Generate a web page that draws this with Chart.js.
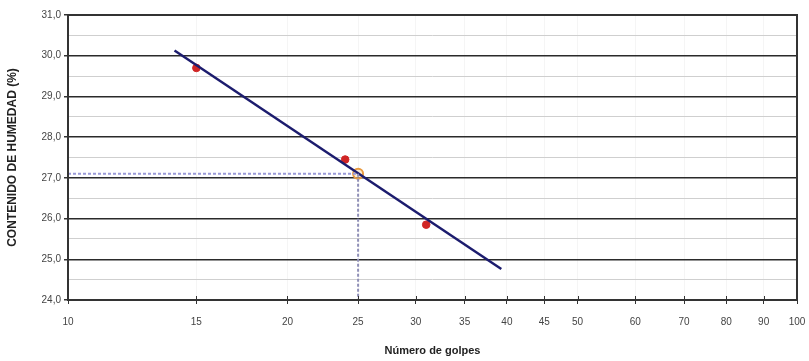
<!DOCTYPE html>
<html>
<head>
<meta charset="utf-8">
<script src="https://cdn.jsdelivr.net/npm/chart.js@4"></script>
<style>
	html, body { margin: 0; padding: 0; background: #fff; }
	#wrap { width: 809px; height: 361px; position: relative; }
</style>
</head>
<body>
<div id="wrap"><canvas id="limite_chart"></canvas></div>
<script>
// Límite líquido
const golpes = [15, 24, 31],           // número de golpes per test
	  humedad = [29.7, 27.45, 25.85];    // contenido de humedad (%)
const trendX = [14, 39.3],             // ends of the fitted line
	  trendY = [30.13, 24.76];
const llGolpes = 25,                   // 25 blows reference point
	  llHumedad = 27.1;
const xTicks = [10, 15, 20, 25, 30, 35, 40, 45, 50, 60, 70, 80, 90, 100];

const font = "'Liberation Sans Narrow', 'Liberation Sans', Arial, sans-serif";

// draws the dark frame around the plot + the little inner tick marks
const frame = {
	id: 'frame',
	afterDraw(chart) {
		const a = chart.chartArea, c = chart.ctx;
		c.save();
		c.strokeStyle = '#333';
		c.lineWidth = 2;
		c.strokeRect(a.left, a.top, a.right - a.left, a.bottom - a.top);
		c.lineWidth = 1;
		c.beginPath();
		xTicks.forEach((v) => {
			let px = Math.round(chart.scales.x.getPixelForValue(v)) + 0.5;
			c.moveTo(px, a.bottom);
			c.lineTo(px, a.bottom - 4);
		});
		c.stroke();
		c.restore();
	}
};

const ctx = document.getElementById('limite_chart');
new Chart(ctx, {
	type: 'scatter',
	data: {
		datasets: [
			{ // horizontal guide to the y axis
				type: 'line',
				data: [{x: 10, y: llHumedad}, {x: llGolpes, y: llHumedad}],
				borderColor: '#9a9ad8',
				borderWidth: 2,
				borderDash: [3, 2],
				pointRadius: 0
			},{ // vertical guide down to the x axis
				type: 'line',
				data: [{x: llGolpes, y: llHumedad}, {x: llGolpes, y: 24}],
				borderColor: '#9090b8',
				borderWidth: 2,
				borderDash: [3, 2],
				pointRadius: 0
			},{ // fitted line
				type: 'line',
				data: trendX.map((x, i) => ({x: x, y: trendY[i]})),
				borderColor: '#1c1c6e',
				borderWidth: 2.5,
				pointRadius: 0
			},{ // test results
				data: golpes.map((g, i) => ({x: g, y: humedad[i]})),
				backgroundColor: '#d02525',
				borderColor: '#d02525',
				pointRadius: 3.8
			},{ // 25 blows point
				data: [{x: llGolpes, y: llHumedad}],
				backgroundColor: 'rgba(250,220,170,0.5)',
				borderColor: '#e89a40',
				borderWidth: 2,
				pointRadius: 5
			}
		]
	},
	options: {
		responsive: true,
		maintainAspectRatio: false,
		animation: false,
		layout: { padding: { top: 15, right: 12, left: 0, bottom: 0 } },
		plugins: { legend: { display: false }, tooltip: { enabled: false } },
		scales: {
			x: {
				type: 'logarithmic',
				min: 10,
				max: 100,
				afterBuildTicks: (scale) => {
					scale.ticks = xTicks.map((v) => ({ value: v }));
				},
				afterFit: (scale) => {
					scale.height = 61;
					scale.paddingLeft = 0;  // don't let the tick padding eat the plot width
					scale.paddingRight = 0;
				},
				ticks: {
					autoSkip: false,
					maxRotation: 0,
					color: '#444',
					font: { family: font, size: 10 },
					padding: 12,
					callback: (value) => `${value}`
				},
				grid: {
					color: '#f5f5f5',
					tickColor: '#333',
					tickLength: 4,
					lineWidth: 1
				},
				border: { display: false },
				title: {
					display: true,
					text: 'Número de golpes',
					color: '#222',
					font: { family: font, size: 11, weight: 'bold' },
					padding: { top: 0, bottom: 3 }
				}
			},
			y: {
				min: 24,
				max: 31,
				afterFit: (scale) => { scale.width = 68; },
				ticks: {
					stepSize: 0.5,
					color: '#444',
					font: { family: font, size: 10 },
					padding: 3,
					callback: (value) => (Number.isInteger(value) ? value.toFixed(1).replace('.', ',') : '')
				},
				grid: {
					color: (c) => (Number.isInteger(c.tick.value) ? '#2a2a2a' : '#cfcfcf'),
					lineWidth: (c) => (Number.isInteger(c.tick.value) ? 1.5 : 1),
					tickColor: (c) => (Number.isInteger(c.tick.value) ? '#333' : 'rgba(0,0,0,0)'),
					tickLength: 4
				},
				border: { display: false },
				title: {
					display: true,
					text: 'CONTENIDO DE HUMEDAD (%)',
					color: '#222',
					font: { family: font, size: 12, weight: 'bold' },
					padding: { top: 5, bottom: 0 }
				}
			}
		}
	},
	plugins: [frame]
});
</script>
</body>
</html>
